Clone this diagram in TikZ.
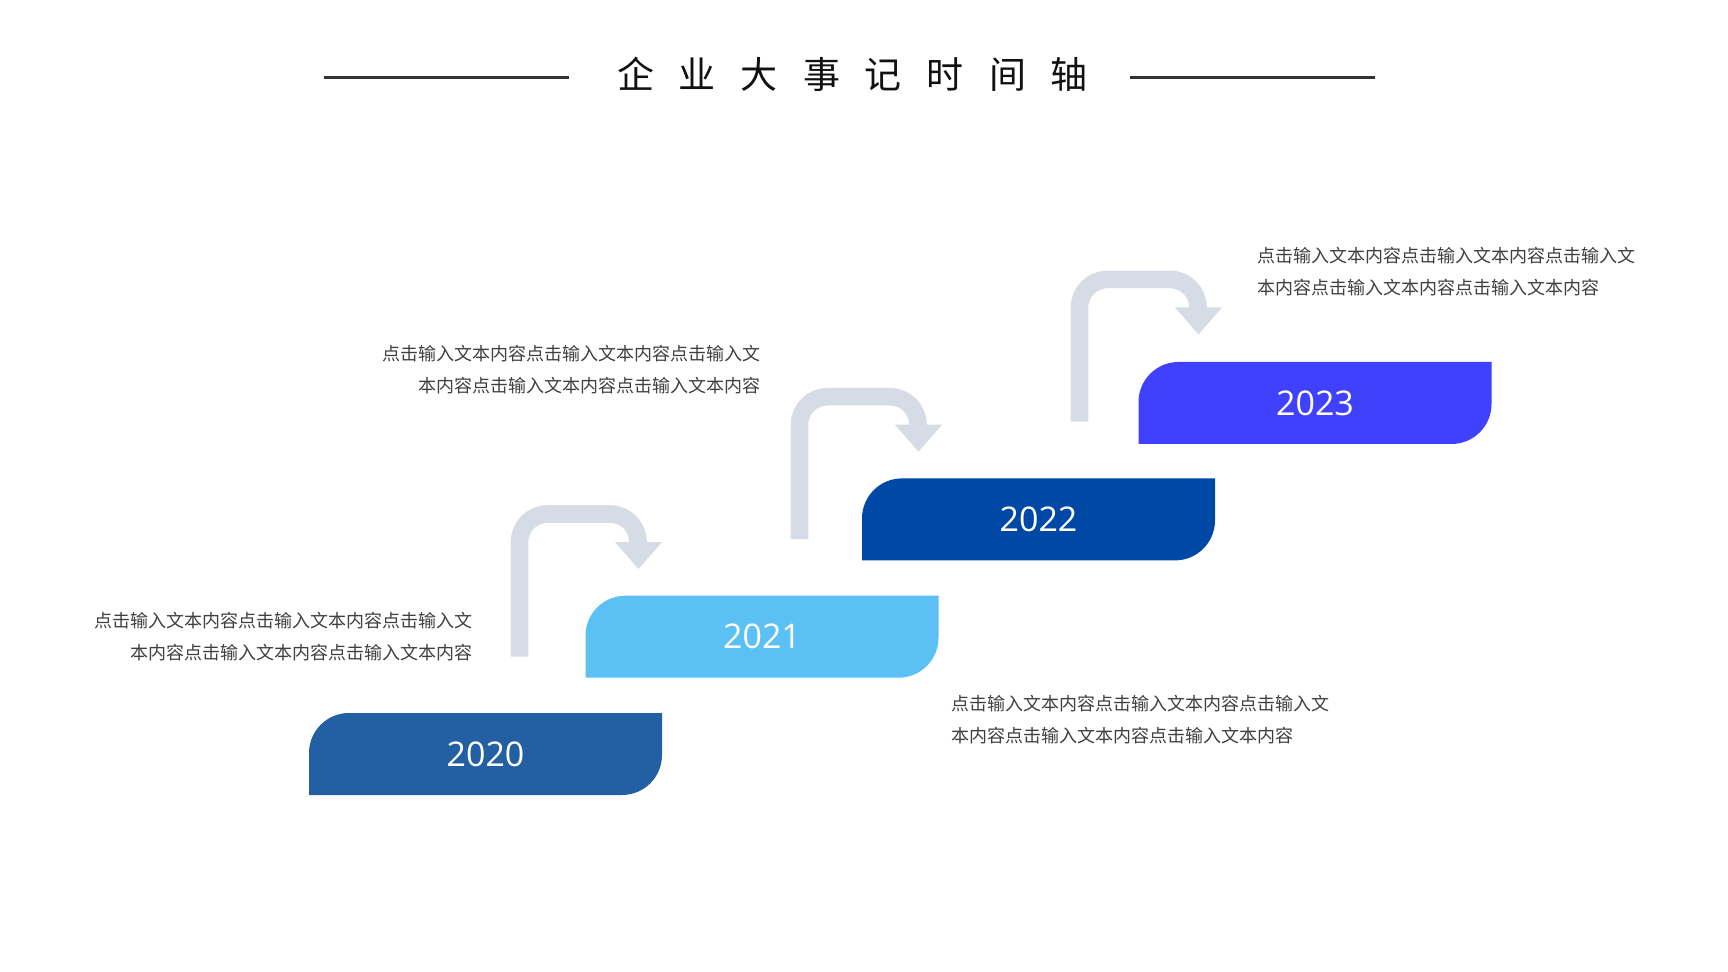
\documentclass[tikz,border=0pt]{standalone}
\usepackage{fontspec}
\setmainfont{Noto Sans CJK SC}
\newfontfamily\cjk{Noto Sans CJK SC}
\newfontfamily\yearfont{Open Sans}
\usetikzlibrary{calc}
\definecolor{cA}{HTML}{2260A3}
\definecolor{cB}{HTML}{5BC0F3}
\definecolor{cC}{HTML}{0048A5}
\definecolor{cD}{HTML}{4040FF}
\definecolor{arrowgray}{HTML}{D6DCE5}
\definecolor{txtgray}{HTML}{3F3F3F}
\definecolor{titlecol}{HTML}{111111}
\definecolor{linecol}{HTML}{333333}
\tikzset{
  yearlabel/.style={font=\yearfont\fontsize{17}{20}\selectfont, text=white, inner sep=0pt},
  desc/.style={font=\cjk\fontsize{9}{16}\selectfont, text=txtgray, inner sep=0pt},
  flowarrow/.style={draw=arrowgray, line width=8.8pt},
  headfill/.style={fill=arrowgray},
  titleline/.style={draw=linecol, line width=1.35pt},
  titletext/.style={font=\cjk\fontsize{18.5}{20}\selectfont, text=titlecol, inner sep=0pt},
}
\newcommand\tch[1]{\makebox[31pt]{#1}}
\begin{document}
\begin{tikzpicture}[x=0.5pt,y=-0.5pt]
\useasboundingbox (0,0) rectangle (1728,972);
\fill[white] (0,0) rectangle (1728,972);
% title
\node[titletext] (title) at (852.5,74.5) {\tch{企}\tch{业}\tch{大}\tch{事}\tch{记}\tch{时}\tch{间}\tch{轴}};
\coordinate (l1a) at (324,77.7);
\coordinate (l1b) at (569.3,77.7);
\coordinate (l2a) at (1130,77.7);
\coordinate (l2b) at (1375,77.7);
\draw[titleline] (l1a) -- (l1b);
\draw[titleline] (l2a) -- (l2b);
% boxes
\foreach \yr/\X/\Y/\col in {2020/309/713/cA, 2021/585.5/595.7/cB, 2022/862/478.4/cC, 2023/1138.5/362/cD} {
  \fill[\col] (\X,\Y+82) -- (\X,\Y+40) arc (180:270:40) -- (\X+353,\Y) -- (\X+353,\Y+42) arc (0:90:40) -- cycle;
  \node[yearlabel] (y\yr) at (\X+176.5,\Y+41) {\yr};
}
% arrows
\foreach \k in {0,1,2} {
  \pgfmathsetmacro\ax{519.5+280*\k}
  \pgfmathsetmacro\tp{514-117.3*\k}
  \pgfmathsetmacro\bt{656.7-117.5*\k}
  \coordinate (as\k) at (\ax,\bt);
  \coordinate (ae\k) at (\ax+119,\tp+55);
  \draw[flowarrow] (as\k) -- (\ax,\tp+28) arc (180:270:28) -- (\ax+90.5,\tp) arc (270:360:28) -- (\ax+118.5,\tp+30);
  \fill[headfill] (\ax+95.5,\tp+28) -- (\ax+142.5,\tp+28) -- (ae\k) -- cycle;
}
% descriptions
\node[desc, align=right, anchor=east] (t2020) at (472.7,636.7) {点击输入文本内容点击输入文本内容点击输入文\\本内容点击输入文本内容点击输入文本内容};
\node[desc, align=right, anchor=east] (t2021) at (760.7,370) {点击输入文本内容点击输入文本内容点击输入文\\本内容点击输入文本内容点击输入文本内容};
\node[desc, align=left, anchor=west] (t2022) at (950.7,720) {点击输入文本内容点击输入文本内容点击输入文\\本内容点击输入文本内容点击输入文本内容};
\node[desc, align=left, anchor=west] (t2023) at (1257.3,271.5) {点击输入文本内容点击输入文本内容点击输入文\\本内容点击输入文本内容点击输入文本内容};
\end{tikzpicture}
\end{document}
